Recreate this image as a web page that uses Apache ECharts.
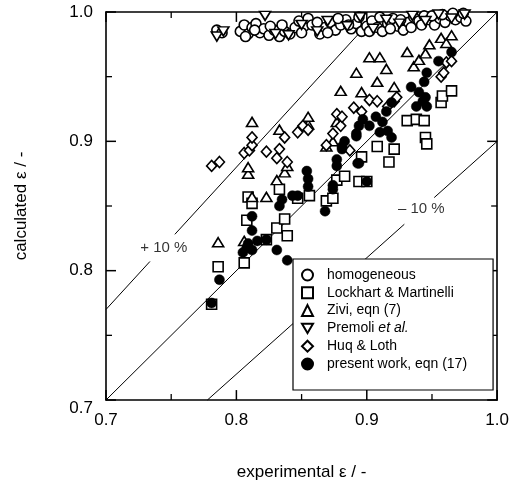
<!DOCTYPE html>
<html><head><meta charset="utf-8">
<script src="https://cdn.jsdelivr.net/npm/echarts@6/dist/echarts.min.js"></script>
<style>html,body{margin:0;padding:0;background:#fff}#c{width:512px;height:486px}</style>
</head><body><div id="c"></div>
<script>
// ---------- data ----------
const axisMin = 0.7, axisMax = 1.0, axisStep = 0.1;
const majorTicks = [0.7, 0.8, 0.9, 1.0];
const minorTicks = [0.75, 0.85, 0.95];
const seriesNames = ['homogeneous', 'Lockhart & Martinelli', 'Zivi, eqn (7)', 'Premoli et al.', 'Huq & Loth', 'present work, eqn (17)'];

const homogeneous = [[0.785,0.986],[0.789,0.984],[0.803,0.985],[0.806,0.990],[0.809,0.983],[0.812,0.988],[0.815,0.991],[0.818,0.984],[0.821,0.987],
  [0.825,0.982],[0.829,0.986],[0.833,0.981],[0.837,0.985],[0.841,0.983],[0.845,0.988],[0.848,0.993],[0.852,0.989],[0.855,0.995],[0.858,0.990],
  [0.864,0.983],[0.868,0.988],[0.872,0.992],[0.876,0.986],[0.880,0.990],[0.884,0.994],[0.888,0.987],[0.892,0.991],[0.896,0.985],[0.900,0.989],
  [0.904,0.993],[0.908,0.988],[0.912,0.985],[0.916,0.991],[0.920,0.995],[0.924,0.989],[0.928,0.986],[0.932,0.992],[0.936,0.996],[0.940,0.993],
  [0.944,0.997],[0.948,0.994],[0.952,0.990],[0.956,0.995],[0.960,0.992],[0.964,0.997],[0.968,0.994],[0.972,0.996],[0.976,0.993],
  [0.807,0.981],[0.814,0.986],[0.826,0.989],[0.835,0.990],[0.850,0.984],[0.862,0.992],[0.870,0.984],[0.878,0.995],[0.886,0.990],[0.894,0.996],
  [0.902,0.985],[0.910,0.996],[0.918,0.987],[0.926,0.994],[0.934,0.988],[0.942,0.990],[0.950,0.997],[0.958,0.998],[0.966,0.999],[0.974,0.999]];

const premoli = [[0.785,0.981],[0.790,0.985],[0.822,0.997],[0.830,0.983],[0.840,0.982],[0.850,0.990],[0.862,0.985],[0.870,0.993],[0.885,0.989],
  [0.895,0.996],[0.905,0.987],[0.915,0.994],[0.925,0.991],[0.935,0.997],[0.945,0.993],[0.955,0.998],[0.965,0.995],[0.975,0.998]];

const lockhart = [[0.781,0.774],[0.786,0.803],[0.806,0.806],[0.808,0.839],[0.809,0.857],[0.812,0.852],[0.823,0.824],[0.831,0.833],[0.833,0.863],
  [0.837,0.840],[0.839,0.827],[0.847,0.856],[0.856,0.858],[0.869,0.854],[0.874,0.856],[0.877,0.870],[0.883,0.873],[0.894,0.869],[0.900,0.869],
  [0.896,0.888],[0.908,0.896],[0.917,0.884],[0.921,0.894],[0.931,0.916],[0.938,0.917],[0.944,0.916],[0.945,0.903],[0.946,0.898],[0.957,0.930],
  [0.958,0.935],[0.965,0.939]];

const zivi = [[0.786,0.822],[0.806,0.823],[0.809,0.875],[0.809,0.880],[0.812,0.857],[0.812,0.915],[0.823,0.857],[0.831,0.870],[0.833,0.909],
  [0.837,0.876],[0.839,0.881],[0.855,0.913],[0.855,0.919],[0.869,0.896],[0.874,0.900],[0.877,0.915],[0.880,0.939],[0.892,0.953],[0.896,0.938],
  [0.902,0.965],[0.908,0.946],[0.910,0.965],[0.915,0.956],[0.921,0.942],[0.931,0.969],[0.936,0.958],[0.940,0.963],[0.945,0.968],[0.948,0.975],
  [0.957,0.980],[0.961,0.976],[0.965,0.982]];

const huqLoth = [[0.781,0.881],[0.787,0.884],[0.806,0.891],[0.810,0.893],[0.812,0.897],[0.812,0.903],[0.823,0.892],[0.831,0.887],[0.833,0.894],
  [0.837,0.903],[0.839,0.884],[0.847,0.907],[0.851,0.912],[0.855,0.909],[0.869,0.897],[0.874,0.906],[0.877,0.921],[0.880,0.912],[0.881,0.919],
  [0.887,0.893],[0.890,0.926],[0.896,0.923],[0.902,0.932],[0.908,0.931],[0.916,0.927],[0.921,0.931],[0.923,0.934],[0.957,0.950],[0.959,0.953],
  [0.961,0.961],[0.965,0.962]];

const presentWork = [[0.781,0.775],[0.787,0.793],[0.805,0.814],[0.808,0.818],[0.809,0.821],[0.812,0.816],[0.816,0.823],[0.812,0.831],[0.812,0.842],
  [0.823,0.824],[0.831,0.816],[0.839,0.808],[0.833,0.850],[0.835,0.855],[0.843,0.858],[0.847,0.858],[0.854,0.877],[0.855,0.871],[0.855,0.865],
  [0.868,0.846],[0.874,0.863],[0.874,0.866],[0.877,0.881],[0.877,0.886],[0.881,0.894],[0.883,0.900],[0.892,0.904],[0.893,0.883],[0.894,0.883],
  [0.897,0.917],[0.900,0.869],[0.902,0.912],[0.907,0.919],[0.912,0.915],[0.915,0.923],[0.916,0.908],[0.919,0.903],[0.919,0.930],[0.910,0.907],
  [0.934,0.942],[0.938,0.927],[0.940,0.938],[0.943,0.931],[0.944,0.946],[0.945,0.934],[0.946,0.927],[0.946,0.953],[0.955,0.962],[0.965,0.969],
  [0.892,0.906],[0.894,0.912],[0.881,0.896]];

// reference lines (parity and +/-10 %), broken where the labels sit
const parityLine = [[0.7,0.7],[1.0,1.0]];
const plus10Low = [[0.7,0.77],[0.7337,0.8071]];
const plus10High = [[0.7528,0.8281],[0.90909,1.0]];
const minus10Low = [[0.77778,0.7],[0.9288,0.8359]];
const minus10High = [[0.9517,0.8565],[1.0,0.9]];
const bandLabels = [{name:'+ 10 %', value:[0.7444,0.8173]}, {name:'– 10 %', value:[0.9418,0.8481]}];

// ---------- chart ----------
const FONT = '"Liberation Sans", Arial, Helvetica, sans-serif';
const chart = echarts.init(document.getElementById('c'), null, {renderer:'canvas'});
const hollow = {color:'#fff', borderColor:'#000', borderWidth:1.6, opacity:1};
const lineStyle = {color:'#000', width:1};
function refLine(d, w){ return {type:'line', data:d, symbol:'none', lineStyle:{color:'#000', width:w||1}, silent:true, z:1, animation:false, clip:false}; }

// inward tick marks on all four sides as short line segments in axis units
const pxPerUnit = 1303; // plot height / (axisMax - axisMin) * ... (approx. 390 px for 0.3)
const tickSeries = [];
function addTicks(values, lenPx, w){
  const d = lenPx / pxPerUnit;
  values.forEach(v => {
    tickSeries.push(refLine([[v, axisMin], [v, axisMin + d]], w));
    tickSeries.push(refLine([[v, axisMax], [v, axisMax - d]], w));
    tickSeries.push(refLine([[axisMin, v], [axisMin + d, v]], w));
    tickSeries.push(refLine([[axisMax, v], [axisMax - d, v]], w));
  });
}
addTicks(majorTicks, 10, 1.5);
addTicks(minorTicks, 6, 1.3);

function mkAxis(pos, showLabel, extra){
  return Object.assign({
    type:'value', position:pos, min:axisMin, max:axisMax, interval:axisStep,
    axisLine:{show:true, onZero:false, lineStyle:{color:'#000', width:1.6}},
    axisTick:{show:false},
    minorTick:{show:false},
    splitLine:{show:false},
    axisLabel:{show:showLabel, color:'#000', fontSize:17, fontFamily:FONT, margin:12,
      formatter:v=>v.toFixed(1)}
  }, extra||{});
}
const option = {
  backgroundColor:'#fff',
  animation:false,
  grid:{left:106, right:14, top:12, bottom:83},
  xAxis:[
    mkAxis('bottom', true, {name:'experimental ε / -', nameLocation:'middle', nameGap:64,
      nameTextStyle:{color:'#000', fontSize:17, fontFamily:FONT}}),
    mkAxis('top', false)
  ],
  yAxis:[
    mkAxis('left', true, {name:'calculated ε / -', nameLocation:'middle', nameGap:76,
      nameTextStyle:{color:'#000', fontSize:17, fontFamily:FONT},
      axisLabel:{show:true, color:'#000', fontSize:17, fontFamily:FONT, margin:13,
        formatter:v=> (Math.abs(v-0.7)<1e-9 ? '{lo|0.7}' : v.toFixed(1)),
        rich:{lo:{fontSize:17, fontFamily:FONT, color:'#000', padding:[16,0,0,0]}}}}),
    mkAxis('right', false)
  ],
  legend:{
    data:seriesNames, orient:'vertical', left:293, top:259,
    backgroundColor:'#fff', borderColor:'#000', borderWidth:1.2, borderRadius:0,
    padding:[9,26,19,8], itemGap:3.8, itemWidth:11, itemHeight:11,
    textStyle:{color:'#000', fontSize:14, fontFamily:FONT, lineHeight:14, padding:[0,0,0,9],
      rich:{n:{fontSize:14, fontFamily:FONT, color:'#000'}, i:{fontSize:14, fontFamily:FONT, fontStyle:'italic', color:'#000'}}},
    formatter:name => name === 'Premoli et al.' ? '{n|Premoli }{i|et al.}' : '{n|' + name + '}',
    selectedMode:false, z:10
  },
  series:[
    refLine(parityLine), refLine(plus10Low), refLine(plus10High), refLine(minus10Low), refLine(minus10High),
    ...tickSeries,
    {type:'scatter', name:seriesNames[0], data:homogeneous, symbol:'circle', symbolSize:10, itemStyle:hollow, z:3},
    {type:'scatter', name:seriesNames[3], data:premoli, symbol:'path://M0,0 L12,0 L6,10 Z', symbolSize:[11,9], itemStyle:hollow, z:3},
    {type:'scatter', name:seriesNames[1], data:lockhart, symbol:'rect', symbolSize:10, itemStyle:hollow, z:3},
    {type:'scatter', name:seriesNames[2], data:zivi, symbol:'triangle', symbolSize:[11,9], itemStyle:hollow, z:3},
    {type:'scatter', name:seriesNames[4], data:huqLoth, symbol:'diamond', symbolSize:[10,11], itemStyle:hollow, z:3},
    {type:'scatter', name:seriesNames[5], data:presentWork, symbol:'circle', symbolSize:10, itemStyle:{color:'#000', borderColor:'#000', borderWidth:0.5, opacity:1}, z:4},
    {type:'scatter', data:bandLabels, symbolSize:0, silent:true, z:5,
      label:{show:true, position:'inside', formatter:p=>p.name, color:'#000', fontSize:15, fontFamily:FONT}}
  ]
};
chart.setOption(option);
</script></body></html>
